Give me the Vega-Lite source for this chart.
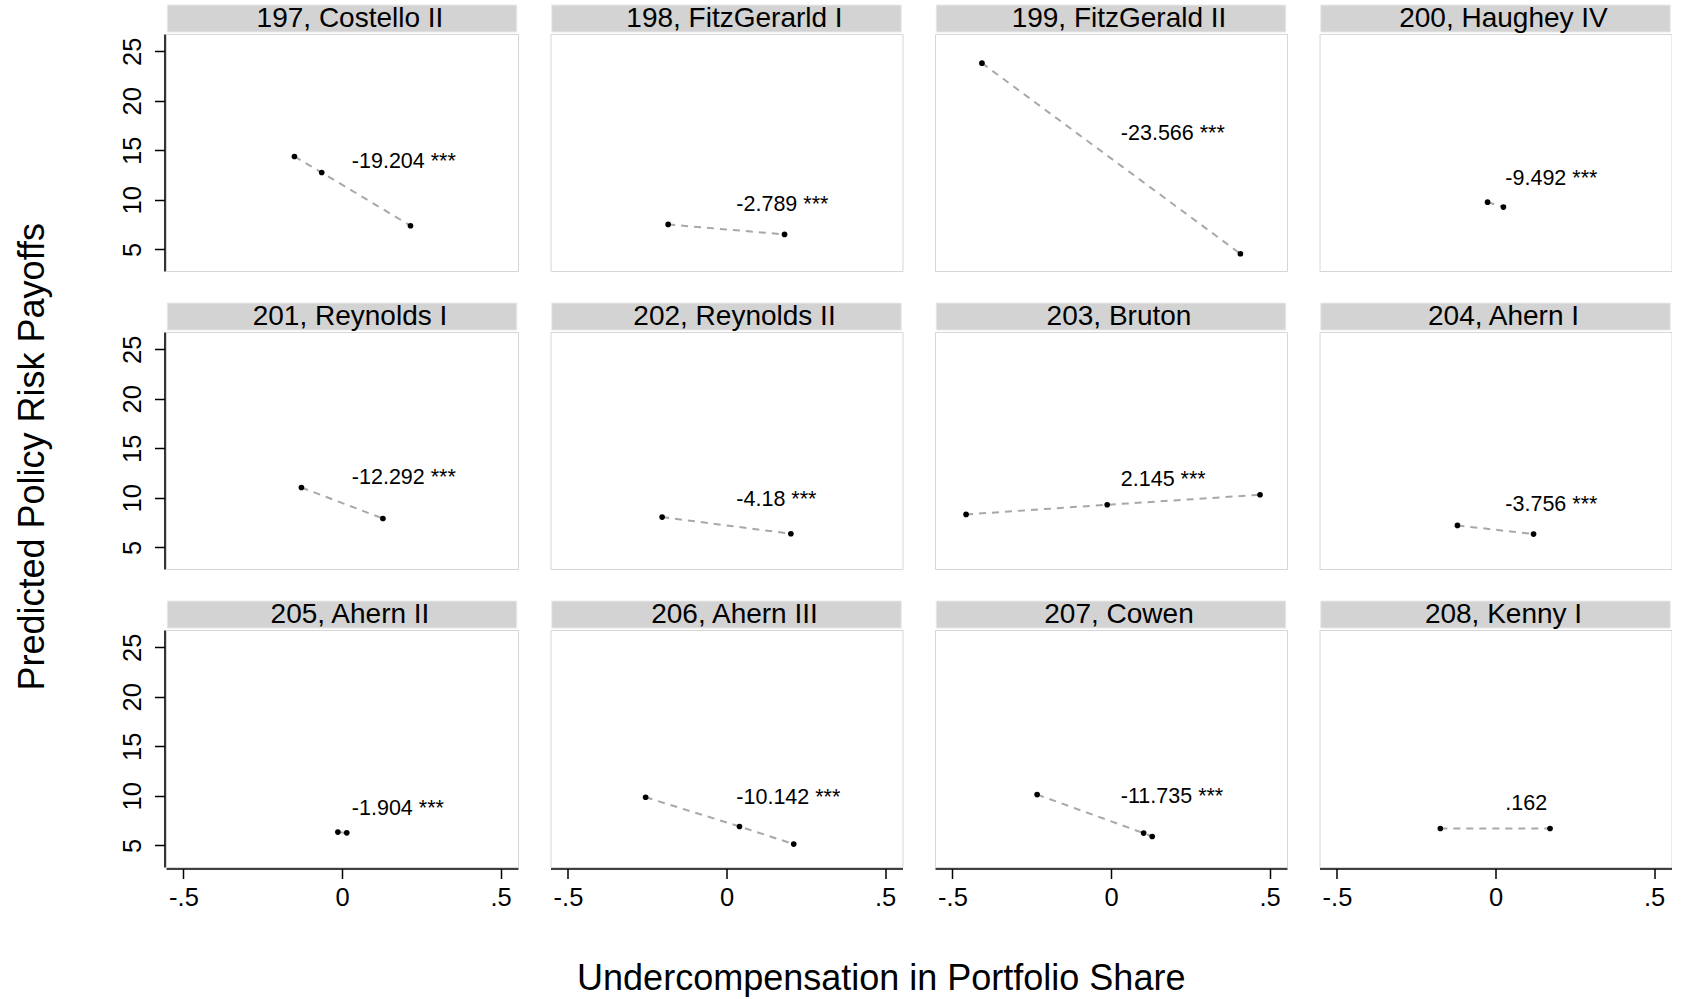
{
  "$schema": "https://vega.github.io/schema/vega-lite/v6.json",
  "background": "white",
  "padding": {"left": 14, "top": 3, "right": 0, "bottom": 0},
  "title": {
    "text": "Undercompensation in Portfolio Share",
    "orient": "bottom",
    "anchor": "middle",
    "fontSize": 36,
    "font": "Liberation Sans",
    "fontWeight": "normal",
    "color": "black",
    "offset": 51,
    "dx": 38
  },
  "vconcat": [
    {
      "title": {
        "text": "Predicted Policy Risk Payoffs",
        "orient": "left",
        "anchor": "middle",
        "fontSize": 36,
        "font": "Liberation Sans",
        "fontWeight": "normal",
        "color": "black",
        "offset": 69
      },
      "data": {
        "values": [
          {"gov": "197, Costello II", "kind": "pt", "x": -0.150, "y": 14.38},
          {"gov": "197, Costello II", "kind": "pt", "x": -0.064, "y": 12.76},
          {"gov": "197, Costello II", "kind": "pt", "x": 0.216, "y": 7.39},
          {"gov": "197, Costello II", "kind": "lab", "est": "-19.204 ***", "ly": 13.81},
          {"gov": "198, FitzGerarld I", "kind": "pt", "x": -0.184, "y": 7.52},
          {"gov": "198, FitzGerarld I", "kind": "pt", "x": 0.183, "y": 6.51},
          {"gov": "198, FitzGerarld I", "kind": "lab", "est": "-2.789 ***", "ly": 9.50},
          {"gov": "199, FitzGerald II", "kind": "pt", "x": -0.407, "y": 23.80},
          {"gov": "199, FitzGerald II", "kind": "pt", "x": 0.408, "y": 4.56},
          {"gov": "199, FitzGerald II", "kind": "lab", "est": "-23.566 ***", "ly": 16.66},
          {"gov": "200, Haughey IV", "kind": "pt", "x": -0.025, "y": 9.77},
          {"gov": "200, Haughey IV", "kind": "pt", "x": 0.025, "y": 9.27},
          {"gov": "200, Haughey IV", "kind": "lab", "est": "-9.492 ***", "ly": 12.13},
          {"gov": "201, Reynolds I", "kind": "pt", "x": -0.128, "y": 11.05},
          {"gov": "201, Reynolds I", "kind": "pt", "x": 0.129, "y": 7.92},
          {"gov": "201, Reynolds I", "kind": "lab", "est": "-12.292 ***", "ly": 12.03},
          {"gov": "202, Reynolds II", "kind": "pt", "x": -0.203, "y": 8.06},
          {"gov": "202, Reynolds II", "kind": "pt", "x": 0.203, "y": 6.38},
          {"gov": "202, Reynolds II", "kind": "lab", "est": "-4.18 ***", "ly": 9.77},
          {"gov": "203, Bruton", "kind": "pt", "x": -0.457, "y": 8.33},
          {"gov": "203, Bruton", "kind": "pt", "x": -0.012, "y": 9.30},
          {"gov": "203, Bruton", "kind": "pt", "x": 0.470, "y": 10.31},
          {"gov": "203, Bruton", "kind": "lab", "est": "2.145 ***", "ly": 11.79},
          {"gov": "204, Ahern I", "kind": "pt", "x": -0.120, "y": 7.22},
          {"gov": "204, Ahern I", "kind": "pt", "x": 0.120, "y": 6.34},
          {"gov": "204, Ahern I", "kind": "lab", "est": "-3.756 ***", "ly": 9.27},
          {"gov": "205, Ahern II", "kind": "pt", "x": -0.013, "y": 6.34},
          {"gov": "205, Ahern II", "kind": "pt", "x": 0.015, "y": 6.27},
          {"gov": "205, Ahern II", "kind": "lab", "est": "-1.904 ***", "ly": 8.69},
          {"gov": "206, Ahern III", "kind": "pt", "x": -0.255, "y": 9.86},
          {"gov": "206, Ahern III", "kind": "pt", "x": 0.041, "y": 6.91},
          {"gov": "206, Ahern III", "kind": "pt", "x": 0.212, "y": 5.13},
          {"gov": "206, Ahern III", "kind": "lab", "est": "-10.142 ***", "ly": 9.82},
          {"gov": "207, Cowen", "kind": "pt", "x": -0.233, "y": 10.13},
          {"gov": "207, Cowen", "kind": "pt", "x": 0.103, "y": 6.24},
          {"gov": "207, Cowen", "kind": "pt", "x": 0.130, "y": 5.90},
          {"gov": "207, Cowen", "kind": "lab", "est": "-11.735 ***", "ly": 9.92},
          {"gov": "208, Kenny I", "kind": "pt", "x": -0.174, "y": 6.71},
          {"gov": "208, Kenny I", "kind": "pt", "x": 0.172, "y": 6.71},
          {"gov": "208, Kenny I", "kind": "lab", "est": ".162", "ly": 9.15}
        ]
      },
      "facet": {
        "field": "gov",
        "type": "nominal",
        "title": null,
        "header": {"labels": false, "title": null, "labelFontSize": 1, "labelColor": "transparent", "labelPadding": 0}
      },
      "columns": 4,
      "spacing": {"row": 61, "column": 32.5},
      "bounds": "flush",
      "spec": {
        "width": 352,
        "height": 237,
        "layer": [
          {
            "transform": [{"filter": "datum.kind == 'lab'"}],
            "mark": {"type": "rect", "fill": "#d3d3d3", "stroke": "#e8e8e8", "strokeWidth": 1, "clip": false},
            "encoding": {
              "x": {"datum": -0.551, "type": "quantitative", "scale": {"domain": [-0.555, 0.555], "nice": false, "zero": false}},
              "x2": {"datum": 0.551},
              "y": {"datum": 29.66, "type": "quantitative", "scale": {"domain": [2.82, 26.74], "nice": false, "zero": false}},
              "y2": {"datum": 26.94}
            }
          },
          {
            "transform": [{"filter": "datum.kind == 'lab'"}],
            "mark": {"type": "text", "clip": false, "fontSize": 28, "font": "Liberation Sans", "color": "black", "align": "center", "baseline": "middle", "dx": 8},
            "encoding": {
              "x": {"datum": 0, "type": "quantitative"},
              "y": {"datum": 28.3, "type": "quantitative"},
              "text": {"field": "gov", "type": "nominal"}
            }
          },
          {
            "transform": [{"filter": "datum.kind == 'pt'"}],
            "mark": {"type": "line", "color": "#a8a8a8", "strokeWidth": 2, "strokeDash": [7, 6]},
            "encoding": {
              "x": {
                "field": "x",
                "type": "quantitative",
                "axis": {
                  "title": null,
                  "values": [-0.5, 0, 0.5],
                  "labelExpr": "datum.value < 0 ? '-.5' : (datum.value > 0 ? '.5' : '0')",
                  "labelFlush": false,
                  "labelPadding": 6.5,
                  "labelFontSize": 25.5,
                  "offset": 1.5
                }
              },
              "y": {
                "field": "y",
                "type": "quantitative",
                "axis": {
                  "title": null,
                  "values": [5, 10, 15, 20, 25],
                  "labelAngle": -90,
                  "labelAlign": "center",
                  "labelBaseline": "alphabetic",
                  "labelFlush": false,
                  "labelPadding": 14,
                  "labelFontSize": 25.5,
                  "offset": 1.5
                }
              },
              "order": {"field": "x", "type": "quantitative"}
            }
          },
          {
            "transform": [{"filter": "datum.kind == 'pt'"}],
            "mark": {"type": "point", "filled": true, "color": "black", "size": 32, "opacity": 1},
            "encoding": {
              "x": {"field": "x", "type": "quantitative"},
              "y": {"field": "y", "type": "quantitative"}
            }
          },
          {
            "transform": [{"filter": "datum.kind == 'lab'"}],
            "mark": {"type": "text", "fontSize": 21.5, "font": "Liberation Sans", "color": "black", "align": "left", "baseline": "middle"},
            "encoding": {
              "x": {"datum": 0.031, "type": "quantitative"},
              "y": {"field": "ly", "type": "quantitative"},
              "text": {"field": "est", "type": "nominal"}
            }
          }
        ]
      }
    }
  ],
  "config": {
    "font": "Liberation Sans",
    "view": {"stroke": "#d6d6d6", "strokeWidth": 1},
    "axis": {
      "grid": false,
      "domainColor": "black",
      "domainWidth": 1.6,
      "tickColor": "black",
      "tickWidth": 1.5,
      "tickSize": 10,
      "labelColor": "black",
      "labelFont": "Liberation Sans"
    }
  }
}
